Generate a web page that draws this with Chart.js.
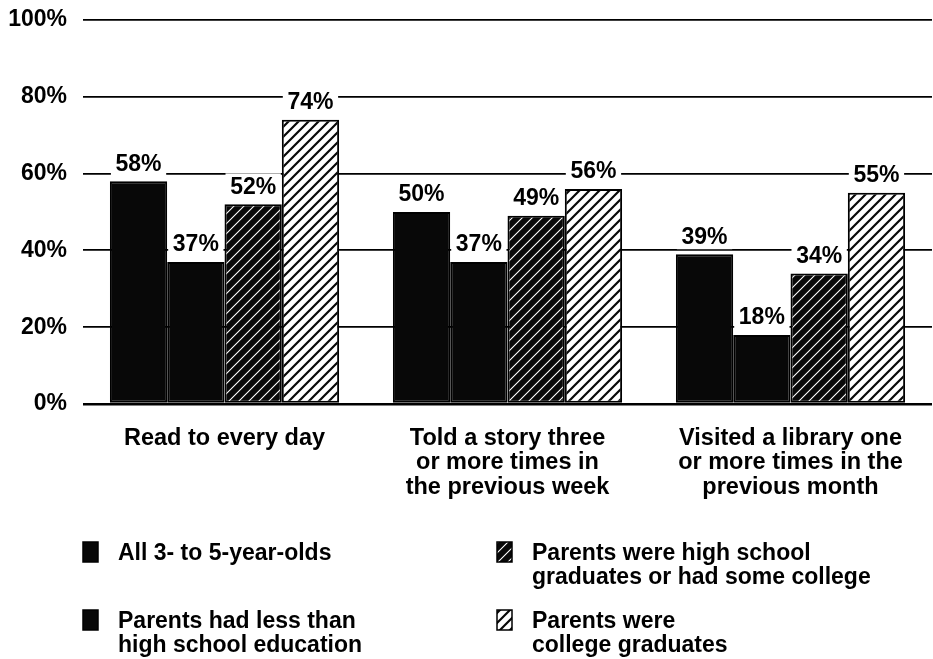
<!DOCTYPE html>
<html>
<head>
<meta charset="utf-8">
<script src="https://cdn.jsdelivr.net/npm/chart.js@4/dist/chart.umd.min.js"></script>
<style>
  html, body { margin: 0; padding: 0; background: #fff; }
  canvas { display: block; }
</style>
</head>
<body>
<canvas id="chart" width="933" height="659"></canvas>
<script>
// categories (multi-line labels)
const activities = [
    ["Read to every day"],
    ["Told a story three", "or more times in", "the previous week"],
    ["Visited a library one", "or more times in the", "previous month"],
];

// series names
const seriesNames = [
    ["All 3- to 5-year-olds"],
    ["Parents had less than", "high school education"],
    ["Parents were high school", "graduates or had some college"],
    ["Parents were", "college graduates"],
];

// values, percent
const allKids = [58, 50, 39];
const lessThanHighSchool = [37, 37, 18];
const highSchoolOrSomeCollege = [52, 49, 34];
const collegeGraduates = [74, 56, 55];

const yTicks = [0, 20, 40, 60, 80, 100];

const FONT = "'Liberation Sans', Arial, sans-serif";
const canvas = document.getElementById("chart");
const ctx = canvas.getContext("2d");

// diagonal hatch pattern
function hatch(bg, fg, lw) {
    const c = document.createElement("canvas");
    c.width = 10;
    c.height = 10;
    const x = c.getContext("2d");
    x.fillStyle = bg;
    x.fillRect(0, 0, 10, 10);
    x.strokeStyle = fg;
    x.lineWidth = lw;
    x.beginPath();
    x.moveTo(-5, 5); x.lineTo(5, -5);
    x.moveTo(0, 10); x.lineTo(10, 0);
    x.moveTo(5, 15); x.lineTo(15, 5);
    x.stroke();
    return ctx.createPattern(c, "repeat");
}

const darkHatch = hatch("#080808", "#ffffff", 1.1);
const lightHatch = hatch("#ffffff", "#080808", 2.2);
const fills = ["#080808", "#080808", darkHatch, lightHatch];

// value labels with white boxes that break the grid lines
const valueLabels = {
    id: "valueLabels",
    afterDatasetsDraw(chart) {
        const c = chart.ctx;
        c.save();
        c.font = "bold 23px " + FONT;
        c.textAlign = "center";
        c.textBaseline = "middle";
        chart.data.datasets.forEach((ds, i) => {
            chart.getDatasetMeta(i).data.forEach((bar, j) => {
                const y = bar.y - 18;
                c.fillStyle = "#fff";
                c.fillRect(bar.x - bar.width / 2 + 1, y - 13, bar.width - 2, 26);
                c.fillStyle = "#000";
                c.fillText(ds.data[j] + "%", bar.x, y + 1);
            });
        });
        c.restore();
    },
};

// legend in two columns
const legendBlock = {
    id: "legendBlock",
    afterDraw(chart) {
        const c = chart.ctx;
        const cols = [83, 497];
        const rows = [542, 610];
        const order = [0, 2, 1, 3];
        c.save();
        c.font = "bold 23px " + FONT;
        c.textBaseline = "middle";
        c.textAlign = "left";
        order.forEach((di, k) => {
            const x = cols[k % 2];
            const y = rows[Math.floor(k / 2)];
            c.fillStyle = fills[di];
            c.fillRect(x, y, 15, 20);
            c.strokeStyle = "#000";
            c.lineWidth = 1.5;
            c.strokeRect(x, y, 15, 20);
            c.fillStyle = "#000";
            chart.data.datasets[di].label.forEach((line, li) => {
                c.fillText(line, x + 35, y + 12 + li * 24);
            });
        });
        c.restore();
    },
};

const series = [allKids, lessThanHighSchool, highSchoolOrSomeCollege, collegeGraduates];

new Chart(ctx, {
    type: "bar",
    data: {
        labels: activities,
        datasets: series.map((data, i) => ({
            label: seriesNames[i],
            data: data,
            backgroundColor: fills[i],
            borderColor: "#000",
            borderWidth: 2,
            borderSkipped: false,
        })),
    },
    options: {
        responsive: false,
        animation: false,
        devicePixelRatio: 1,
        categoryPercentage: 0.81,
        barPercentage: 1,
        layout: { padding: { top: 20, right: 1, left: 0, bottom: 0 } },
        plugins: {
            legend: { display: false },
            tooltip: { enabled: false },
        },
        scales: {
            x: {
                grid: { display: false },
                border: { display: false },
                ticks: {
                    color: "#000",
                    font: { family: FONT, size: 23.5, weight: "bold", lineHeight: 1.05 },
                    padding: 14,
                    maxRotation: 0,
                    autoSkip: false,
                },
                afterFit(s) { s.height = 255; },
            },
            y: {
                min: 0,
                max: 100,
                afterBuildTicks(s) { s.ticks = yTicks.map((v) => ({ value: v })); },
                grid: {
                    color: "#000",
                    lineWidth: (c) => (c.tick && c.tick.value === 0 ? 2.6 : 1.8),
                    drawTicks: false,
                },
                border: { display: false },
                ticks: {
                    color: "#000",
                    font: { family: FONT, size: 23, weight: "bold" },
                    padding: 16,
                    callback: (v) => v + "%",
                },
                afterFit(s) {
                    s.width = 83;
                    s.paddingTop = 0;
                    s.paddingBottom = 0;
                },
            },
        },
    },
    plugins: [valueLabels, legendBlock],
});
</script>
</body>
</html>
